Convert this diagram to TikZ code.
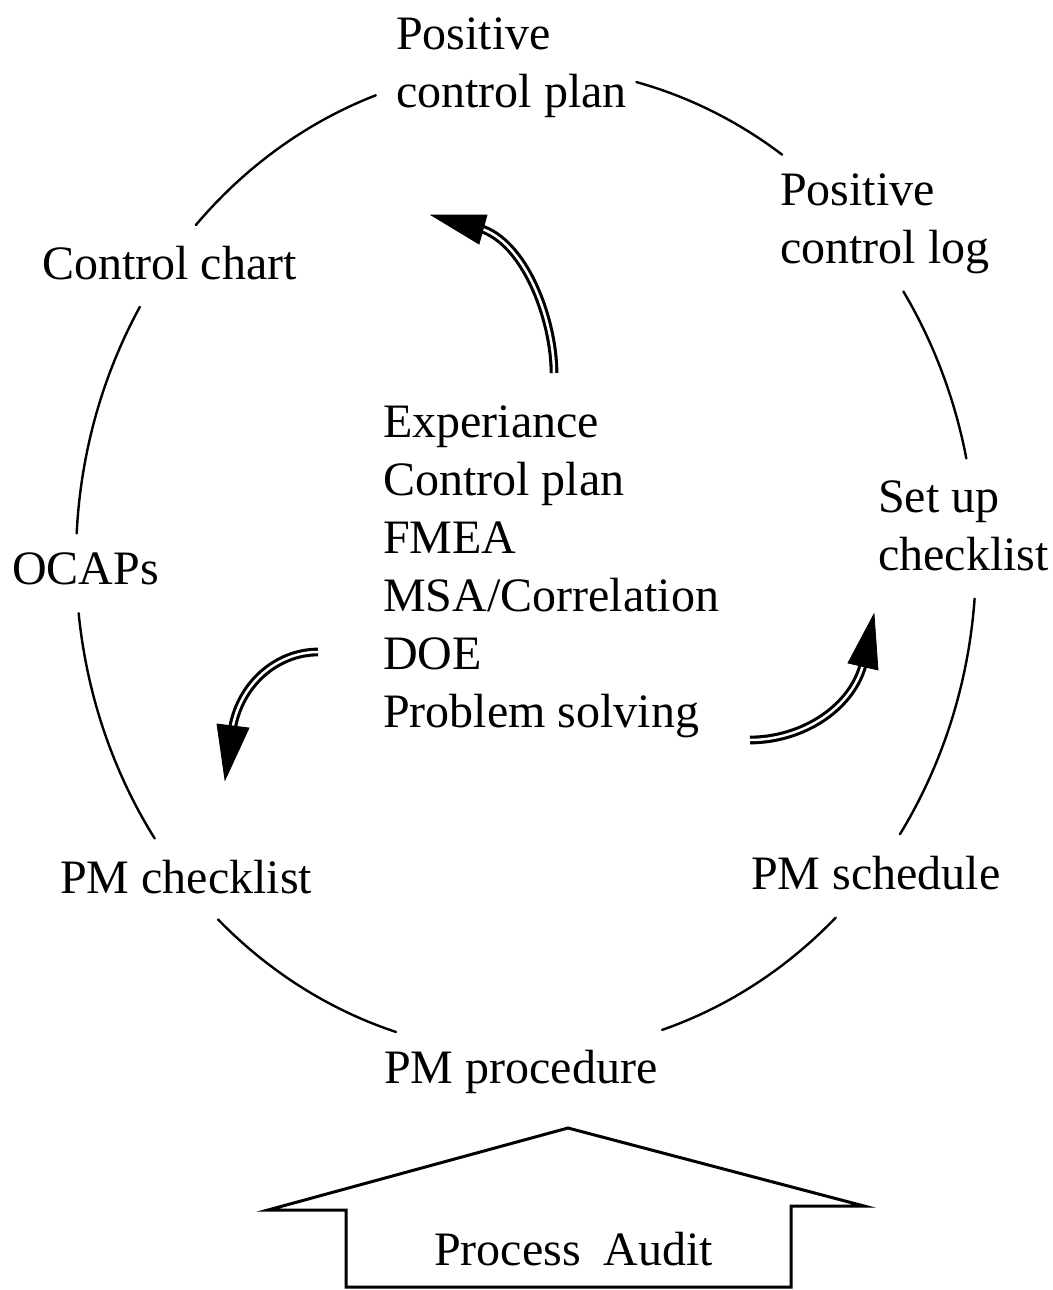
\documentclass[tikz,border=0pt]{standalone}
\usepackage{fontspec}
\setmainfont{Liberation Serif}
\begin{document}
\begin{tikzpicture}[x=1pt,y=1pt,
  lbl/.style={inner sep=0pt, anchor=base west, align=left, font=\fontsize{48}{58}\selectfont},
  ringline/.style={line width=2.4pt, line cap=round},
  shaft/.style={double, line width=3.1pt, double distance=2.5pt},
  headfill/.style={fill=black, draw=black, line width=0.8pt, line join=miter},
  housestyle/.style={line width=3pt, line join=miter}]
\useasboundingbox (0,0) rectangle (1052,-1290);
\fill[white] (0,0) rectangle (1052,-1290);
\coordinate (ctr) at (526,-560);
\newcommand\ringarc[2]{\draw[ringline] ([shift={(#1:450 and 493)}]ctr) arc[start angle=#1, end angle=#2, x radius=450, y radius=493];}
% labels (base anchor = baseline of the last line)
\node[lbl] (pcp) at (396,-107) {Positive\\control plan};
\node[lbl] (pcl) at (780,-263) {Positive\\control log};
\node[lbl] (suc) at (878,-570) {Set up\\checklist};
\node[lbl] (pms) at (751,-889) {PM schedule};
\node[lbl] (pmp) at (384,-1083) {PM procedure};
\node[lbl] (pmc) at (60,-893) {PM checklist};
\node[lbl] (ocaps) at (12,-584) {OCAPs};
\node[lbl] (cc) at (42,-279) {Control chart};
\node[lbl] (tools) at (383,-727) {Experiance\\Control plan\\FMEA\\MSA/Correlation\\DOE\\Problem solving};
% ring segments
\ringarc{109.5}{137.2}
\ringarc{149.1}{176.9}
\ringarc{186.2}{214.4}
\ringarc{226.8}{253.2}
\ringarc{287.6}{313.5}
\ringarc{326.2}{355.5}
\ringarc{11.9}{33.0}
\ringarc{55.3}{75.8}
% curved double arrows
\coordinate (s1) at (554,-373);
\coordinate (e1) at (479,-228);
\draw[shaft] (s1) .. controls (554,-320) and (525,-241) .. (e1);
\fill[headfill] (431,-215) -- (487,-215) -- (479,-244) -- cycle;
\coordinate (s2) at (318,-652);
\coordinate (e2) at (232,-731);
\draw[shaft] (s2) .. controls (277,-652) and (239,-684) .. (e2);
\fill[headfill] (225,-780) -- (217,-724) -- (249,-728) -- cycle;
\coordinate (s3) at (750,-740);
\coordinate (e3) at (864,-661);
\draw[shaft] (s3) .. controls (803,-740) and (854,-707) .. (e3);
\fill[headfill] (874,-614) -- (848,-663) -- (878,-670) -- cycle;
% process audit arrow
\draw[housestyle] (346,-1287) -- (346,-1210) -- (268,-1210) -- (568,-1128) -- (864,-1206) -- (791,-1206) -- (791,-1287) -- cycle;
\node[lbl] (audit) at (434,-1265) {Process\hskip0.48em Audit};
\end{tikzpicture}
\end{document}
